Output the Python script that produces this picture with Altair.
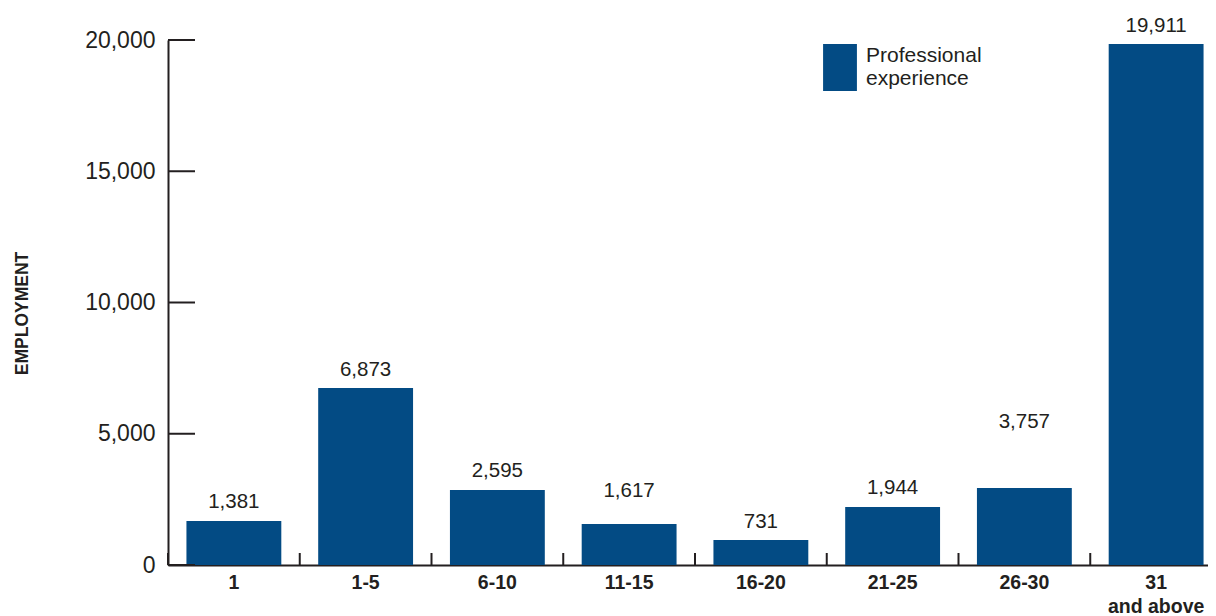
import altair as alt
import pandas as pd

# ---- data ----
categories = ["1", "1-5", "6-10", "11-15", "16-20", "21-25", "26-30", "31\nand above"]
bar_values = [1676, 6743, 2857, 1562, 952, 2210, 2933, 19848]
label_texts = ["1,381", "6,873", "2,595", "1,617", "731", "1,944", "3,757", "19,911"]
label_anchor = [2171, 7200, 3352, 2590, 1410, 2705, 5219, 20305]
y_ticks = [0, 5000, 10000, 15000, 20000]
series_name = "Professional experience"

BAR_COLOR = "#034b84"
INK = "#231f20"
FONT = "Liberation Sans"
W, H = 1040, 525
X_RANGE = 1054  # band range runs slightly past the right edge, as in the reference

bars_df = pd.DataFrame({"cat": categories, "value": bar_values,
                        "series": [series_name] * len(categories)})
labels_df = pd.DataFrame({"cat": categories, "anchor": label_anchor, "text": label_texts})
yticks_df = pd.DataFrame({"v": y_ticks})
xticks_df = pd.DataFrame({"cat": categories})

x_scale = alt.Scale(domain=categories, paddingInner=0, paddingOuter=0, range=[0, X_RANGE])
y_scale = alt.Scale(domain=[0, 20000], nice=False)

x_axis = alt.Axis(
    title=None, labelAngle=0, ticks=False, grid=False,
    labelFont=FONT, labelFontSize=19.5, labelFontWeight="bold", labelColor=INK,
    labelPadding=8, labelLineHeight=24,
    labelExpr="split(datum.label, '\\n')",
    domainColor=INK, domainWidth=2,
)
y_axis = alt.Axis(
    values=y_ticks, format=",d", ticks=False, grid=False,
    labelFont=FONT, labelFontSize=23, labelColor=INK, labelPadding=13,
    domainColor=INK, domainWidth=2,
    title="EMPLOYMENT", titleFont=FONT, titleFontSize=17.5, titleFontWeight="bold",
    titleColor=INK, titleAngle=270, titleX=-146, titleY=273,
    titleAlign="center", titleBaseline="middle",
)

bars = alt.Chart(bars_df).mark_bar(width=alt.RelativeBandSize(0.72)).encode(
    x=alt.X("cat:N", scale=x_scale, axis=x_axis, sort=categories),
    y=alt.Y("value:Q", scale=y_scale, axis=y_axis),
    color=alt.Color(
        "series:N",
        scale=alt.Scale(domain=[series_name], range=[BAR_COLOR]),
        legend=alt.Legend(
            title=None, orient="none", legendX=648.5, legendY=-1.2, padding=0,
            symbolType="M-0.72,-0.78H0.72V1.22H-0.72Z", symbolSize=2209,
            symbolStrokeWidth=0, labelFont=FONT, labelFontSize=21,
            labelColor=INK, labelOffset=2.5, labelBaseline="alphabetic",
            labelExpr="split(datum.label, ' ')", labelLimit=300,
        ),
    ),
)

labels = alt.Chart(labels_df).mark_text(
    font=FONT, fontSize=20.5, color=INK, baseline="alphabetic", align="center"
).encode(
    x=alt.X("cat:N", scale=x_scale, sort=categories),
    y=alt.Y("anchor:Q", scale=y_scale),
    text="text:N",
)

yticks = alt.Chart(yticks_df).mark_rule(color=INK, strokeWidth=2).encode(
    y=alt.Y("v:Q", scale=y_scale),
    x=alt.value(0),
    x2=alt.value(27),
)

xticks = alt.Chart(xticks_df).mark_rule(color=INK, strokeWidth=2).encode(
    x=alt.X("cat:N", scale=x_scale, sort=categories, bandPosition=0),
    y=alt.value(H - 12),
    y2=alt.value(H),
)

chart = alt.layer(bars, labels, yticks, xticks).properties(
    width=W, height=H,
    autosize=alt.AutoSizeParams(type="none"),
    padding={"left": 160, "top": 32, "right": 0, "bottom": 50},
).configure(background="white").configure_view(stroke=None)

chart.save("out.html", embed_options={"renderer": "svg", "actions": False})
